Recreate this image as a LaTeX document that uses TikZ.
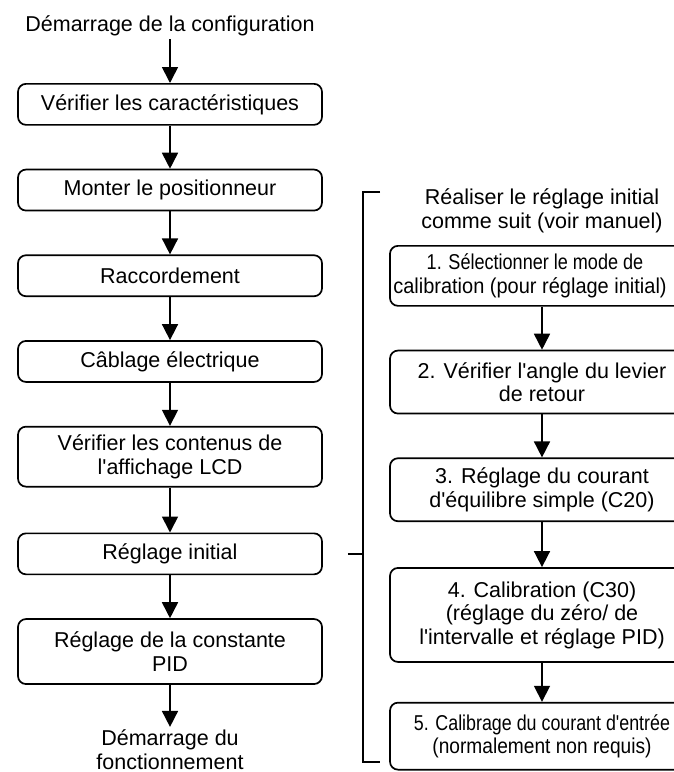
\documentclass[tikz,border=0pt]{standalone}
\usepackage{fontspec}
\setmainfont{Liberation Sans}[Ligatures=TeXOff]
\usepackage{graphicx}
\usetikzlibrary{arrows.meta, positioning}

\newcommand{\squeeze}[2]{\scalebox{#1}[1]{#2}}

\begin{document}
\begin{tikzpicture}[
  x=1pt, y=1pt,
  node distance=43pt,
  every node/.style={font=\fontsize{21.5}{23.5}\selectfont},
  box/.style={draw, rectangle, rounded corners=8pt, line width=1.7pt,
              minimum width=304pt, minimum height=41pt, inner ysep=7pt,
              align=center},
  term/.style={align=center, inner sep=3pt},
  arrow/.style={-{Triangle[length=16pt, width=16pt]}, line width=1.7pt},
  bracket/.style={line width=1.7pt},
]
\useasboundingbox (0,0) rectangle (674,-772);

% main sequence
\node[term] (cfg) at (170,-26) {Démarrage de la configuration};
\node[box, anchor=north] (specs) at (170,-83) {Vérifier les caractéristiques};
\node[box, below=of specs]  (mount)  {Monter le positionneur};
\node[box, below=of mount]  (piping) {Raccordement};
\node[box, below=of piping] (wiring) {Câblage électrique};
\node[box, below=of wiring, minimum height=60pt] (lcd)
  {Vérifier les contenus de\\l'affichage LCD};
\node[box, below=45pt of lcd] (init) {Réglage initial};
\node[box, below=of init, minimum height=65pt] (pid)
  {Réglage de la constante\\PID};
\node[term, below=42pt of pid, inner ysep=3pt] (run)
  {Démarrage du\\fonctionnement};

\draw[arrow] (cfg)    -- (specs);
\draw[arrow] (specs)  -- (mount);
\draw[arrow] (mount)  -- (piping);
\draw[arrow] (piping) -- (wiring);
\draw[arrow] (wiring) -- (lcd);
\draw[arrow] (lcd)    -- (init);
\draw[arrow] (init)   -- (pid);
\draw[arrow] (pid)    -- (run);

% detail of the initial adjustment
\node[term] (rtitle) at (542,-211)
  {Réaliser le réglage initial\\comme suit (voir manuel)};
\node[box, anchor=north, minimum height=60pt] (sel) at (542,-245)
  {\squeeze{0.84}{1. Sélectionner le mode de}\hspace*{14pt}\\
   \squeeze{0.93}{calibration (pour réglage initial)}\hspace*{24pt}};
\node[box, below=of sel, minimum height=63pt] (lever)
  {2. Vérifier l'angle du levier\\de retour};
\node[box, below=of lever, minimum height=63pt] (balance)
  {3. Réglage du courant\\d'équilibre simple (C20)};
\node[box, below=45pt of balance, minimum height=94pt] (calib)
  {4. Calibration (C30)\\(réglage du zéro/ de\\l'intervalle et réglage PID)};
\node[box, below=39pt of calib, minimum height=67pt] (input)
  {\squeeze{0.83}{5. Calibrage du courant d'entrée}\\
   \squeeze{0.89}{(normalement non requis)}};

\draw[arrow] (sel)     -- (lever);
\draw[arrow] (lever)   -- (balance);
\draw[arrow] (balance) -- (calib);
\draw[arrow] (calib)   -- (input);

% bracket
\coordinate (brtop) at (380,-192);
\coordinate (brbot) at (380,-762);
\draw[bracket] (brtop) -- ++(-17,0) |- (brbot);
\draw[bracket] ([xshift=25pt]init.east) -- ++(16,0);
\end{tikzpicture}
\end{document}
